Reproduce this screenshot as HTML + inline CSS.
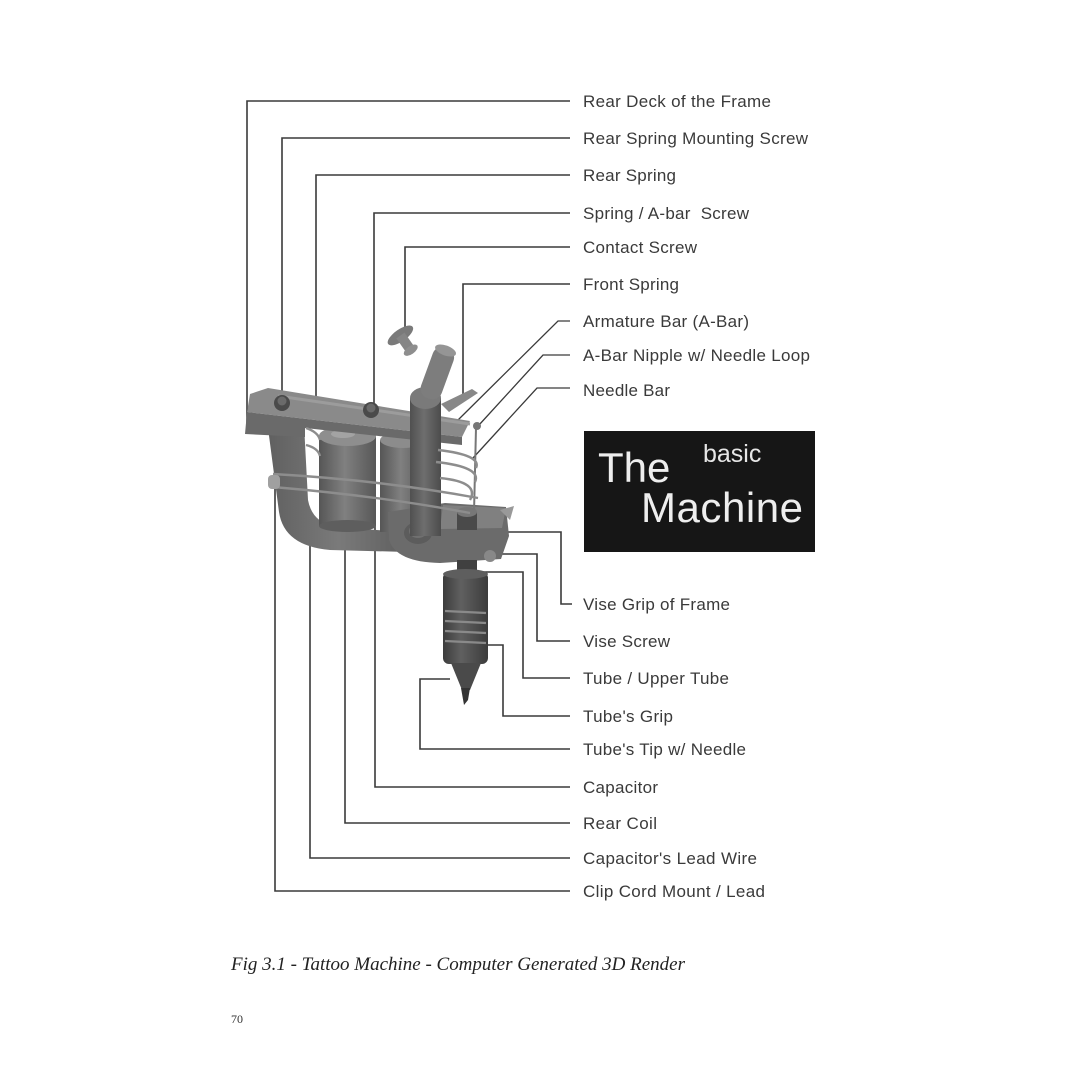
<!DOCTYPE html>
<html>
<head>
<meta charset="utf-8">
<style>
html,body{margin:0;padding:0;background:#fff;}
svg{display:block;}
.lb{font-family:"Liberation Sans",Arial,sans-serif;font-size:17px;fill:#3a3a3a;}
.ln{fill:none;stroke:#3a3a3a;stroke-width:1.6;}
</style>
</head>
<body>
<svg width="1080" height="1080" viewBox="0 0 1080 1080" xmlns="http://www.w3.org/2000/svg">
<defs>
<linearGradient id="cyl" x1="0" x2="1" y1="0" y2="0">
<stop offset="0" stop-color="#565656"/><stop offset="0.45" stop-color="#808080"/><stop offset="1" stop-color="#575757"/>
</linearGradient>
<linearGradient id="cylD" x1="0" x2="1" y1="0" y2="0">
<stop offset="0" stop-color="#3c3c3c"/><stop offset="0.4" stop-color="#606060"/><stop offset="1" stop-color="#3c3c3c"/>
</linearGradient>
<linearGradient id="post" x1="0" x2="1" y1="0" y2="0">
<stop offset="0" stop-color="#505050"/><stop offset="0.45" stop-color="#6e6e6e"/><stop offset="1" stop-color="#4c4c4c"/>
</linearGradient>
<linearGradient id="leg" x1="0" x2="1" y1="0" y2="0">
<stop offset="0" stop-color="#606060"/><stop offset="0.5" stop-color="#7a7a7a"/><stop offset="1" stop-color="#5e5e5e"/>
</linearGradient>
</defs>
<rect width="1080" height="1080" fill="#fff"/>

<!-- connector lines top -->
<polyline class="ln" points="570,101 247,101 247,428"/>
<polyline class="ln" points="570,138 282,138 282,400"/>
<polyline class="ln" points="570,175 316,175 316,405"/>
<polyline class="ln" points="570,213 374,213 374,404"/>
<polyline class="ln" points="570,247 405,247 405,330"/>
<polyline class="ln" points="570,284 463,284 463,396"/>
<polyline class="ln" points="570,321 558,321 458,420" style="stroke-width:1.3"/>
<polyline class="ln" points="570,355 543,355 479,425" style="stroke-width:1.3"/>
<polyline class="ln" points="570,388 537,388 473,458" style="stroke-width:1.3"/>

<!-- connector lines bottom right -->
<polyline class="ln" points="503,532 561,532 561,604 572,604"/>
<polyline class="ln" points="497,554 537,554 537,641 570,641"/>
<polyline class="ln" points="470,572 523,572 523,678 570,678"/>
<polyline class="ln" points="482,645 503,645 503,716 570,716"/>
<polyline class="ln" points="450,679 420,679 420,749 570,749"/>
<!-- connector lines bottom left -->
<polyline class="ln" points="375,520 375,787 570,787"/>
<polyline class="ln" points="345,512 345,823 570,823"/>
<polyline class="ln" points="310,520 310,858 570,858"/>
<polyline class="ln" points="275,487 275,891 570,891"/>

<!-- ===== machine ===== -->
<path d="M268,428 L304,424 L308,500 Q312,522 335,527 L405,532 L408,552 L330,550 Q284,546 279,512 Z" fill="url(#leg)"/>
<!-- front coil -->
<rect x="380" y="440" width="46" height="92" fill="url(#cyl)"/>
<ellipse cx="403" cy="440" rx="23" ry="8" fill="#8c8c8c"/>
<!-- rear coil -->
<rect x="319" y="436" width="57" height="90" fill="url(#cyl)"/>
<ellipse cx="347.5" cy="526" rx="28.5" ry="6" fill="#5e5e5e"/>
<ellipse cx="347.5" cy="436" rx="28.5" ry="10" fill="#8e8e8e"/>
<ellipse cx="343" cy="434" rx="12" ry="4" fill="#a3a3a3"/>
<!-- deck plate -->
<path d="M250,394 L268,388 L470,421 L462,437 L247,412 Z" fill="#8a8a8a"/>
<path d="M247,412 L462,437 L462,445 L305,428 L305,437 L245,434 Z" fill="#6a6a6a"/>
<path d="M278,396 L470,424" stroke="#9c9c9c" stroke-width="3" fill="none"/>
<!-- screws -->
<circle cx="282" cy="403" r="8" fill="#4a4a4a"/><circle cx="282" cy="401" r="4.5" fill="#6a6a6a"/>
<circle cx="371" cy="410" r="8" fill="#4a4a4a"/><circle cx="371" cy="408" r="4.5" fill="#6a6a6a"/>
<!-- vise block -->
<path d="M388,512 L445,503 L506,507 L509,536 L501,559 L440,563 Q396,562 389,540 Z" fill="#6b6b6b"/>
<path d="M443,505 L506,508 L502,528 L440,529 Z" fill="#808080"/>
<ellipse cx="418" cy="533" rx="14" ry="11" fill="#5c5c5c"/>
<ellipse cx="418" cy="531" rx="9" ry="7" fill="#707070"/>
<path d="M500,510 L514,506 L510,520 Z" fill="#999"/>
<!-- front upright -->
<rect x="410" y="398" width="31" height="138" fill="url(#post)"/>
<ellipse cx="425.5" cy="398" rx="15.5" ry="11" fill="#7a7a7a"/>
<!-- binding post -->
<g transform="rotate(20 437 374)">
<rect x="426" y="346" width="22" height="54" rx="10" fill="#7d7d7d"/>
<ellipse cx="437" cy="349" rx="11" ry="5" fill="#959595"/>
</g>
<!-- contact screw -->
<g transform="rotate(-35 405 342)">
<ellipse cx="405" cy="334" rx="15" ry="6" fill="#7a7a7a"/>
<rect x="400" y="334" width="10" height="18" fill="#858585"/>
<ellipse cx="405" cy="352" rx="8" ry="4" fill="#8e8e8e"/>
</g>
<!-- front spring -->
<path d="M441,404 L472,389 L478,393 L449,412 Z" fill="#888"/>
<!-- needle loop + bar -->
<circle cx="477" cy="426" r="4" fill="#777"/>
<line x1="476" y1="428" x2="474" y2="513" stroke="#777" stroke-width="2"/>
<!-- tube post -->
<rect x="457" y="512" width="20" height="18" fill="#4a4a4a"/>
<ellipse cx="467" cy="512" rx="10" ry="5" fill="#777"/>
<circle cx="490" cy="556" r="6" fill="#888"/>
<!-- wires -->
<g fill="none" stroke="#8d8d8d" stroke-width="2.4">
<path d="M273,474 Q380,480 478,498"/>
<path d="M273,487 Q380,496 470,513"/>
<path d="M438,450 Q482,455 476,468"/>
<path d="M436,462 Q482,467 475,482"/>
<path d="M440,478 Q480,482 470,500"/>
<path d="M306,428 Q318,432 320,440"/>
<path d="M306,445 Q318,448 320,456"/>
</g>
<rect x="268" y="475" width="12" height="14" rx="4" fill="#a0a0a0"/>
<!-- tube -->
<rect x="457" y="560" width="20" height="16" fill="#404040"/>
<rect x="443" y="572" width="45" height="92" rx="6" fill="url(#cylD)"/>
<ellipse cx="465.5" cy="574" rx="22.5" ry="5" fill="#5e5e5e"/>
<g stroke="#8a8a8a" stroke-width="2.2">
<line x1="445" y1="611" x2="486" y2="613"/>
<line x1="445" y1="621" x2="486" y2="623"/>
<line x1="445" y1="631" x2="486" y2="633"/>
<line x1="445" y1="641" x2="486" y2="643"/>
</g>
<path d="M451,663 L481,663 L470,690 L462,690 Z" fill="#4a4a4a"/>
<path d="M461,688 L470,688 L468,700 L464,705 Z" fill="#333"/>

<!-- labels -->
<text class="lb" x="583" y="107" textLength="188">Rear Deck of the Frame</text>
<text class="lb" x="583" y="144" textLength="225">Rear Spring Mounting Screw</text>
<text class="lb" x="583" y="181" textLength="93">Rear Spring</text>
<text class="lb" x="583" y="219" textLength="166" xml:space="preserve">Spring / A-bar  Screw</text>
<text class="lb" x="583" y="253" textLength="114">Contact Screw</text>
<text class="lb" x="583" y="290" textLength="96">Front Spring</text>
<text class="lb" x="583" y="327" textLength="166">Armature Bar (A-Bar)</text>
<text class="lb" x="583" y="361" textLength="227">A-Bar Nipple w/ Needle Loop</text>
<text class="lb" x="583" y="396" textLength="87">Needle Bar</text>
<text class="lb" x="583" y="610" textLength="147">Vise Grip of Frame</text>
<text class="lb" x="583" y="647" textLength="87">Vise Screw</text>
<text class="lb" x="583" y="684" textLength="146">Tube / Upper Tube</text>
<text class="lb" x="583" y="722" textLength="90">Tube's Grip</text>
<text class="lb" x="583" y="755" textLength="163">Tube's Tip w/ Needle</text>
<text class="lb" x="583" y="793" textLength="75">Capacitor</text>
<text class="lb" x="583" y="829" textLength="74">Rear Coil</text>
<text class="lb" x="583" y="864" textLength="174">Capacitor's Lead Wire</text>
<text class="lb" x="583" y="897" textLength="182">Clip Cord Mount / Lead</text>

<!-- title box -->
<rect x="584" y="431" width="231" height="121" fill="#161616"/>
<text x="598" y="482" font-family="Liberation Sans, Arial, sans-serif" font-size="42" fill="#eeeeee">The</text>
<text x="703" y="462" font-family="Liberation Sans, Arial, sans-serif" font-size="25" fill="#e6e6e6">basic</text>
<text x="641" y="522" font-family="Liberation Sans, Arial, sans-serif" font-size="42" fill="#eeeeee" textLength="162">Machine</text>

<!-- caption -->
<text x="231" y="970" font-family="Liberation Serif, 'Times New Roman', serif" font-style="italic" font-size="19" fill="#222" textLength="454">Fig 3.1 - Tattoo Machine - Computer Generated 3D Render</text>
<text x="231" y="1023" font-family="Liberation Serif, 'Times New Roman', serif" font-size="12" fill="#333">70</text>
</svg>
</body>
</html>
